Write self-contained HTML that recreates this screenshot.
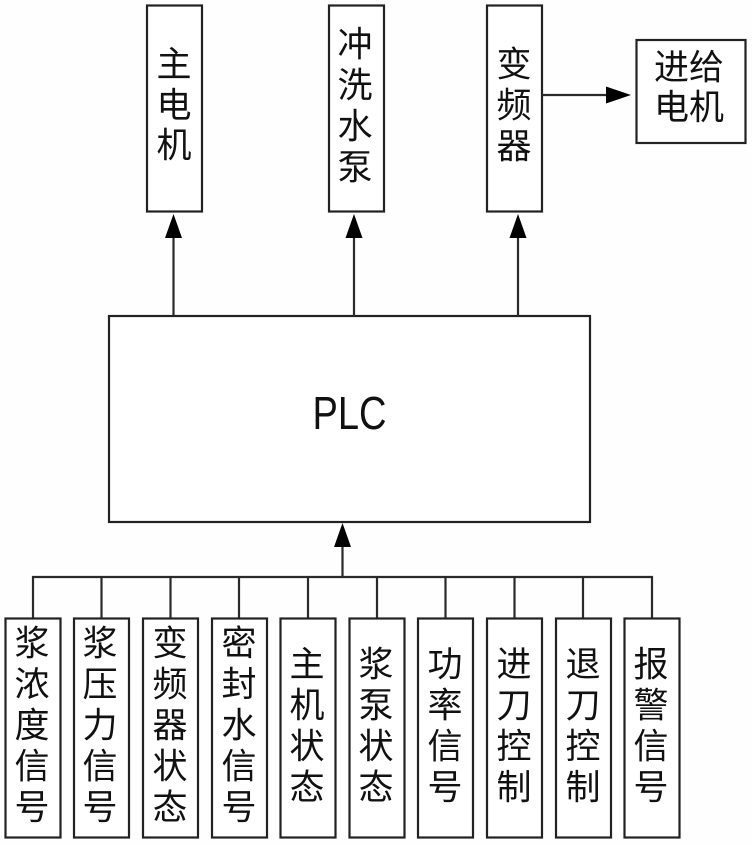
<!DOCTYPE html>
<html>
<head>
<meta charset="utf-8">
<style>
html,body{margin:0;padding:0;background:#fefefe;}
svg{display:block;}
.b{fill:#fff;stroke:#222;stroke-width:2.2;}
.l{stroke:#2a2a2a;stroke-width:2.2;fill:none;}
text{font-family:"Liberation Sans","Noto Sans CJK SC",sans-serif;fill:#111;text-anchor:middle;dominant-baseline:central;}
.c{font-size:35px;}
</style>
</head>
<body>
<svg width="752" height="846" viewBox="0 0 752 846" xmlns="http://www.w3.org/2000/svg">
<rect width="752" height="846" fill="#fefefe"/>
<!-- top boxes -->
<rect class="b" x="147" y="5.500" width="55" height="206"/>
<rect class="b" x="329" y="5.500" width="55" height="206"/>
<rect class="b" x="487" y="5.500" width="55" height="206"/>
<rect class="b" x="636.500" y="40" width="109" height="103"/>
<rect class="b" x="109" y="316" width="481" height="206"/>
<!-- connectors -->
<path class="l" d="M173.500 316V236M354 316V236M518 316V236M542 95H610M342.500 577V545M33 618V577H652V618M101.500 577V618M170.500 577V618M239 577V618M308 577V618M377 577V618M445.500 577V618M514.500 577V618M583 577V618"/>
<path d="M173.500 214l8.500 24h-17zM354 214l8.500 24h-17zM518 214l8.500 24h-17zM342.500 523l8.500 24h-17zM631 95l-25 8.500v-17z" fill="#000"/>
<!-- top labels -->
<g class="c">
<text x="174" y="65">主</text><text x="174" y="106">电</text><text x="174" y="146">机</text>
<text x="355" y="45">冲</text><text x="355" y="86">洗</text><text x="355" y="127">水</text><text x="355" y="168">泵</text>
<text x="514" y="65">变</text><text x="514" y="106">频</text><text x="514" y="147">器</text>
<text x="689" y="68">进给</text><text x="689" y="108">电机</text>
</g>
<text x="349.500" y="413" font-size="46" textLength="74" lengthAdjust="spacingAndGlyphs">PLC</text>
<!-- bottom boxes -->
<rect class="b" x="5.500" y="618.500" width="55" height="219"/>
<rect class="b" x="74" y="618.500" width="55" height="219"/>
<rect class="b" x="143" y="618.500" width="55" height="219"/>
<rect class="b" x="212" y="618.500" width="55" height="219"/>
<rect class="b" x="280.500" y="618.500" width="55" height="219"/>
<rect class="b" x="349.500" y="618.500" width="55" height="219"/>
<rect class="b" x="418" y="618.500" width="55" height="219"/>
<rect class="b" x="487" y="618.500" width="55" height="219"/>
<rect class="b" x="556" y="618.500" width="55" height="219"/>
<rect class="b" x="624.500" y="618.500" width="55" height="219"/>
<g class="c">
<text x="32" y="644">浆</text><text x="32" y="685">浓</text><text x="32" y="726">度</text><text x="32" y="767">信</text><text x="32" y="808">号</text>
<text x="100" y="644">浆</text><text x="100" y="685">压</text><text x="100" y="726">力</text><text x="100" y="767">信</text><text x="100" y="808">号</text>
<text x="170" y="644">变</text><text x="170" y="685">频</text><text x="170" y="726">器</text><text x="170" y="767">状</text><text x="170" y="808">态</text>
<text x="239" y="644">密</text><text x="239" y="685">封</text><text x="239" y="726">水</text><text x="239" y="767">信</text><text x="239" y="808">号</text>
<text x="307" y="665">主</text><text x="307" y="706">机</text><text x="307" y="747">状</text><text x="307" y="788">态</text>
<text x="376" y="665">浆</text><text x="376" y="706">泵</text><text x="376" y="747">状</text><text x="376" y="788">态</text>
<text x="445" y="665">功</text><text x="445" y="706">率</text><text x="445" y="747">信</text><text x="445" y="788">号</text>
<text x="514" y="665">进</text><text x="514" y="706">刀</text><text x="514" y="747">控</text><text x="514" y="788">制</text>
<text x="583" y="665">退</text><text x="583" y="706">刀</text><text x="583" y="747">控</text><text x="583" y="788">制</text>
<text x="651" y="665">报</text><text x="651" y="706">警</text><text x="651" y="747">信</text><text x="651" y="788">号</text>
</g>
</svg>
</body>
</html>
